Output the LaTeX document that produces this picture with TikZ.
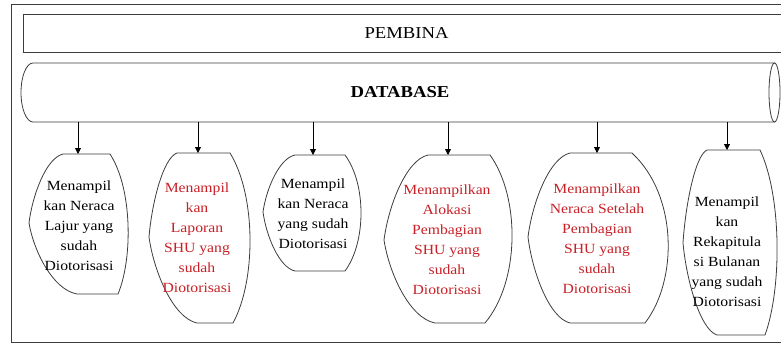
\documentclass[tikz,border=0pt]{standalone}
\usepackage{fontspec}
\setmainfont{Liberation Serif}[FakeStretch=1.12]
\usepackage{xcolor}
\usetikzlibrary{arrows.meta}

\definecolor{shured}{RGB}{200,32,38}
\definecolor{linegray}{RGB}{60,60,60}

\tikzset{
  dline/.style={draw=linegray, line width=0.6pt},
  dtext/.style={align=center, inner sep=0pt, font=\fontsize{10.5}{15}\selectfont},
  darrow/.style={draw=black, line width=0.6pt, -{Triangle[length=4.5pt,width=4.5pt]}}
}

\begin{document}
\begin{tikzpicture}[x=0.75pt,y=-0.75pt]
\useasboundingbox (0,0) rectangle (781,346);
\clip (0,0) rectangle (781,346);
\draw[dline] (795,4) -- (11,4) -- (11,342) -- (795,342);
\node[dline, rectangle, minimum width=575pt, minimum height=28.5pt, font=\fontsize{12.5}{14}\selectfont] (pembina) at (406.5,33) {PEMBINA};
\node[minimum height=44.25pt, font=\bfseries\fontsize{12.5}{14}\selectfont] (db) at (400,92.5) {DATABASE};
\draw[dline] (775,63) -- (33,63) arc[start angle=270, end angle=90, x radius=12, y radius=29.5] -- (775,122);
\draw[dline] (774.5,92.5) ellipse[x radius=5.5, y radius=29.5];
\foreach \t/\b/\tl/\tr/\bl/\br/\lx/\ly/\rx in {
  154/294/63/110/77/118/29/223/128,
  153/323/177/230/197/233/149/237/250,
  155/271/295/345/295/345/263/212/361,
  155/323/428/490/435/485/384/240/512,
  153/323/570/632/570/645/528/237/668,
  150/335/707/760/717/765/683/243/777}{
  \pgfmathsetmacro\cx{(\rx-0.125*(\tr+\br))/0.75}
  \pgfmathsetmacro\hq{(\b-\t)/4}
  \draw[dline] (\tl,\t) -- (\tr,\t) .. controls (\cx,\t+\hq) and (\cx,\b-\hq) .. (\br,\b) -- (\bl,\b)
    .. controls ({\bl-0.5*(\bl-\lx)},{\b-0.06*(\b-\ly)}) and ({\lx+0.1*(\bl-\lx)},{\ly+0.4*(\b-\ly)}) .. (\lx,\ly)
    .. controls ({\lx+0.1*(\tl-\lx)},{\ly-0.4*(\ly-\t)}) and ({\tl-0.5*(\tl-\lx)},{\t+0.06*(\ly-\t)}) .. (\tl,\t) -- cycle;
}
\node[dtext] (lajur) at (79,226) {Menampil\\kan Neraca\\Lajur yang\\sudah\\Diotorisasi};
\node[dtext, text=shured] (laporan) at (197,238) {Menampil\\kan\\Laporan\\SHU yang\\sudah\\Diotorisasi};
\node[dtext] (neraca) at (313,214) {Menampil\\kan Neraca\\yang sudah\\Diotorisasi};
\node[dtext, text=shured] (alokasi) at (447,240) {Menampilkan\\Alokasi\\Pembagian\\SHU yang\\sudah\\Diotorisasi};
\node[dtext, text=shured] (setelah) at (597,239) {Menampilkan\\Neraca Setelah\\Pembagian\\SHU yang\\sudah\\Diotorisasi};
\node[dtext] (rekap) at (727,252) {Menampil\\kan\\Rekapitula\\si Bulanan\\yang sudah\\Diotorisasi};
\coordinate (lajurtop) at (78,154);
\coordinate (laporantop) at (198,153);
\coordinate (neracatop) at (313,155);
\coordinate (alokasitop) at (448,155);
\coordinate (setelahtop) at (597,153);
\coordinate (rekaptop) at (727,150);
\foreach \n in {lajurtop,laporantop,neracatop,alokasitop,setelahtop,rekaptop}
  \draw[darrow] (db.south -| \n) -- (\n);
\end{tikzpicture}
\end{document}
